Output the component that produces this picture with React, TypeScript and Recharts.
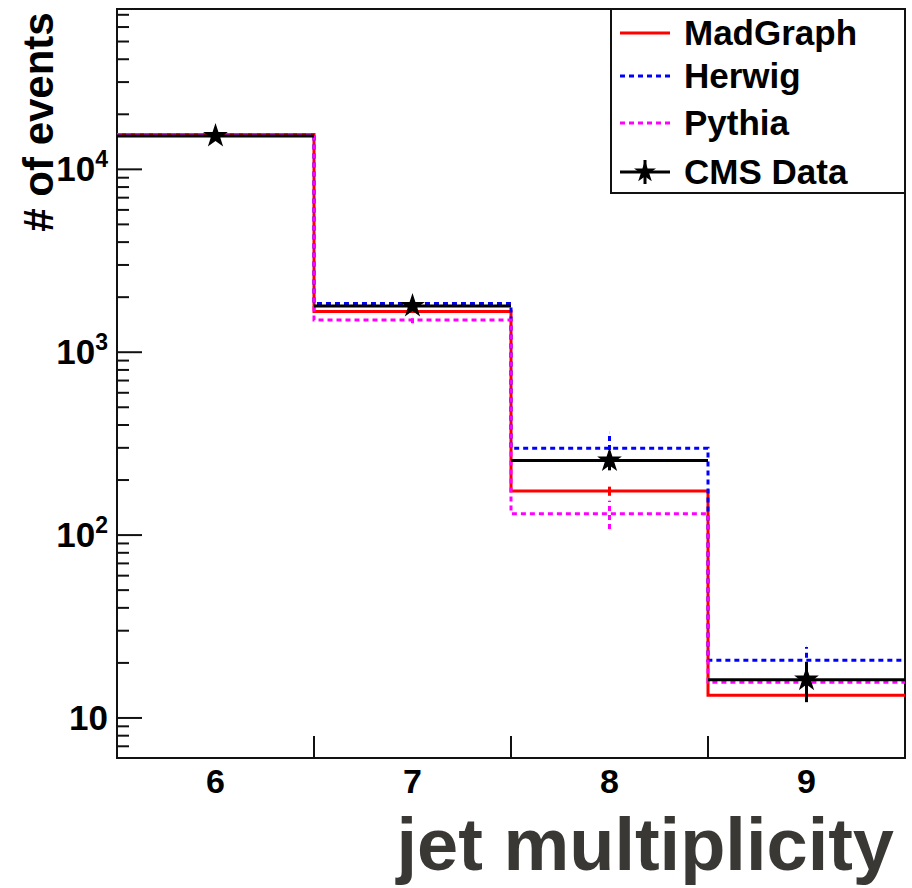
import React from 'react';
import {
  ComposedChart,
  Line,
  Scatter,
  XAxis,
  YAxis,
  ErrorBar,
  ReferenceArea,
  Legend,
  Label,
  Symbols,
} from 'recharts';

// ---------- data ----------
const categories = [6, 7, 8, 9];
const binEdges = [5.5, 6.5, 7.5, 8.5, 9.5];
const binHalfWidth = [0.5, 0.5, 0.5, 0.5];

const madgraph = [15500, 1670, 174, 13.3];
const madgraphErr = [150, 30, 10, 1.0];
const herwig = [15500, 1845, 298, 20.7];
const herwigErr = [150, 40, 65, 3.7];
const pythia = [15500, 1500, 131, 15.7];
const pythiaErr = [150, 60, 23, 1.5];
const cmsData = [15200, 1790, 256, 16.2];
const cmsDataErr = [500, 70, 30, 4.0];

const seriesNames = ['MadGraph', 'Herwig', 'Pythia', 'CMS Data'];

const yMajorTicks = [10, 100, 1000, 10000];
const yTickBase = ['10', '10', '10', '10'];
const yTickExp = ['', '2', '3', '4'];
const yMinorTicks = [
  7, 8, 9,
  20, 30, 40, 50, 60, 70, 80, 90,
  200, 300, 400, 500, 600, 700, 800, 900,
  2000, 3000, 4000, 5000, 6000, 7000, 8000, 9000,
  20000, 30000, 40000, 50000, 60000, 70000,
];
const yDomain = [6.04, 75300];
const xDomain = [5.5, 9.5];
const xTicks = [6, 6.5, 7, 7.5, 8, 8.5, 9];

// ---------- derived tables ----------
const stepRows = binEdges.map((x, i) => {
  const j = Math.min(i, categories.length - 1);
  return { x, madgraph: madgraph[j], herwig: herwig[j], pythia: pythia[j] };
});

const pointRows = categories.map((c, i) => ({
  x: c,
  xerr: binHalfWidth[i],
  madgraph: madgraph[i],
  madgraphErr: madgraphErr[i],
  herwig: herwig[i],
  herwigErr: herwigErr[i],
  pythia: pythia[i],
  pythiaErr: pythiaErr[i],
  data: cmsData[i],
  dataErr: cmsDataErr[i],
}));

const FONT = '"Liberation Sans", Arial, Helvetica, sans-serif';
const RED = '#ff0000';
const BLUE = '#0000ff';
const MAGENTA = '#ff00ff';
const DASH = '5 4';

const YTick = (props: any) => {
  const { x, y, payload } = props;
  const v = payload.value;
  const idx = yMajorTicks.indexOf(v);
  if (idx < 0) {
    return <line x1={x} x2={x + 12} y1={y} y2={y} stroke="#111" strokeWidth={2} />;
  }
  return (
    <g>
      <line x1={x} x2={x + 25} y1={y} y2={y} stroke="#111" strokeWidth={2} />
      <text
        x={x - 9}
        y={y + 12}
        textAnchor="end"
        fontFamily={FONT}
        fontWeight="bold"
        fontSize={35}
        fill="#000"
      >
        {yTickBase[idx]}
        {yTickExp[idx] ? (
          <tspan dy={-14} fontSize={23}>
            {yTickExp[idx]}
          </tspan>
        ) : null}
      </text>
    </g>
  );
};

const XTick = (props: any) => {
  const { x, y, payload } = props;
  const v = payload.value;
  if (categories.includes(v)) {
    return (
      <text
        x={x}
        y={y + 35}
        textAnchor="middle"
        fontFamily={FONT}
        fontWeight="bold"
        fontSize={34}
        fill="#000"
      >
        {v}
      </text>
    );
  }
  return <line x1={x} x2={x} y1={y} y2={y - 22} stroke="#111" strokeWidth={2} />;
};

const noShape = () => <g />;

const starShape = (props: any) => {
  const { cx, cy } = props;
  return <Symbols type="star" size={190} cx={cx} cy={cy} fill="#000" />;
};

const LegendBox = () => {
  const rows = [
    { name: seriesNames[0], color: RED, dash: undefined as string | undefined, cy: 25 },
    { name: seriesNames[1], color: BLUE, dash: DASH, cy: 68 },
    { name: seriesNames[2], color: MAGENTA, dash: DASH, cy: 115 },
    { name: seriesNames[3], color: '#000', dash: undefined as string | undefined, cy: 164 },
  ];
  return (
    <svg width={296} height={186} style={{ display: 'block' }}>
      <rect x={1} y={1} width={294} height={184} fill="#fff" stroke="#111" strokeWidth={2} />
      {rows.map((r, i) => (
        <g key={r.name}>
          <line
            x1={10}
            x2={60}
            y1={r.cy}
            y2={r.cy}
            stroke={r.color}
            strokeWidth={3}
            strokeDasharray={r.dash}
          />
          {i === 3 ? (
            <g>
              <line x1={35} x2={35} y1={r.cy - 12} y2={r.cy + 12} stroke="#000" strokeWidth={3} />
              <Symbols type="star" size={150} cx={35} cy={r.cy} fill="#000" />
            </g>
          ) : null}
          <text
            x={74}
            y={r.cy + 12}
            fontFamily={FONT}
            fontWeight="bold"
            fontSize={35}
            fill="#000"
          >
            {r.name}
          </text>
        </g>
      ))}
    </svg>
  );
};

export default function App() {
  return (
    <div style={{ position: 'absolute', left: 0, top: 0, background: '#fff' }}>
      <ComposedChart
        width={912}
        height={888}
        data={stepRows}
        margin={{ top: 9, right: 7, left: 0, bottom: 0 }}
      >
        <XAxis
          dataKey="x"
          type="number"
          domain={xDomain}
          allowDataOverflow
          ticks={xTicks}
          interval={0}
          tick={XTick}
          tickLine={false}
          tickSize={0}
          tickMargin={0}
          axisLine={false}
          height={130}
        >
          <Label
            content={() => (
              <text
                x={894}
                y={870}
                textAnchor="end"
                fontFamily={FONT}
                fontWeight="bold"
                fontSize={74}
                fill="#3a3834"
              >
                jet multiplicity
              </text>
            )}
          />
        </XAxis>
        <YAxis
          type="number"
          scale="log"
          domain={yDomain}
          allowDataOverflow
          ticks={[...yMajorTicks, ...yMinorTicks]}
          interval={0}
          tick={YTick}
          tickLine={false}
          tickSize={0}
          tickMargin={0}
          axisLine={false}
          width={117}
        >
          <Label
            content={() => (
              <text
                x={53}
                y={122}
                textAnchor="middle"
                transform="rotate(-90 53 122)"
                fontFamily={FONT}
                fontWeight="bold"
                fontSize={42}
                fill="#000"
              >
                # of events
              </text>
            )}
          />
        </YAxis>
        <ReferenceArea
          x1={xDomain[0]}
          x2={xDomain[1]}
          y1={yDomain[0]}
          y2={yDomain[1]}
          fill="none"
          fillOpacity={0}
          stroke="#111"
          strokeWidth={2}
          ifOverflow="visible"
        />
        <Line
          dataKey="madgraph"
          type="stepAfter"
          stroke={RED}
          strokeWidth={3}
          dot={false}
          activeDot={false}
          isAnimationActive={false}
        />
        <Line
          dataKey="herwig"
          type="stepAfter"
          stroke={BLUE}
          strokeWidth={3}
          strokeDasharray={DASH}
          dot={false}
          activeDot={false}
          isAnimationActive={false}
        />
        <Line
          dataKey="pythia"
          type="stepAfter"
          stroke={MAGENTA}
          strokeWidth={3}
          strokeDasharray={DASH}
          dot={false}
          activeDot={false}
          isAnimationActive={false}
        />
        <Scatter data={pointRows} dataKey="madgraph" shape={noShape} isAnimationActive={false}>
          <ErrorBar dataKey="madgraphErr" direction="y" width={0} stroke={RED} strokeWidth={3} />
        </Scatter>
        <Scatter data={pointRows} dataKey="herwig" shape={noShape} isAnimationActive={false}>
          <ErrorBar
            dataKey="herwigErr"
            direction="y"
            width={0}
            stroke={BLUE}
            strokeWidth={3}
            strokeDasharray={DASH}
          />
        </Scatter>
        <Scatter data={pointRows} dataKey="pythia" shape={noShape} isAnimationActive={false}>
          <ErrorBar
            dataKey="pythiaErr"
            direction="y"
            width={0}
            stroke={MAGENTA}
            strokeWidth={3}
            strokeDasharray={DASH}
          />
        </Scatter>
        <Scatter data={pointRows} dataKey="data" shape={starShape} isAnimationActive={false}>
          <ErrorBar dataKey="xerr" direction="x" width={0} stroke="#000" strokeWidth={3} />
          <ErrorBar dataKey="dataErr" direction="y" width={0} stroke="#000" strokeWidth={3} />
        </Scatter>
        <Legend
          layout="vertical"
          align="center"
          verticalAlign="middle"
          content={() => <LegendBox />}
          wrapperStyle={{ position: 'absolute', left: 610, top: 8, width: 296, height: 186 }}
        />
      </ComposedChart>
    </div>
  );
}
